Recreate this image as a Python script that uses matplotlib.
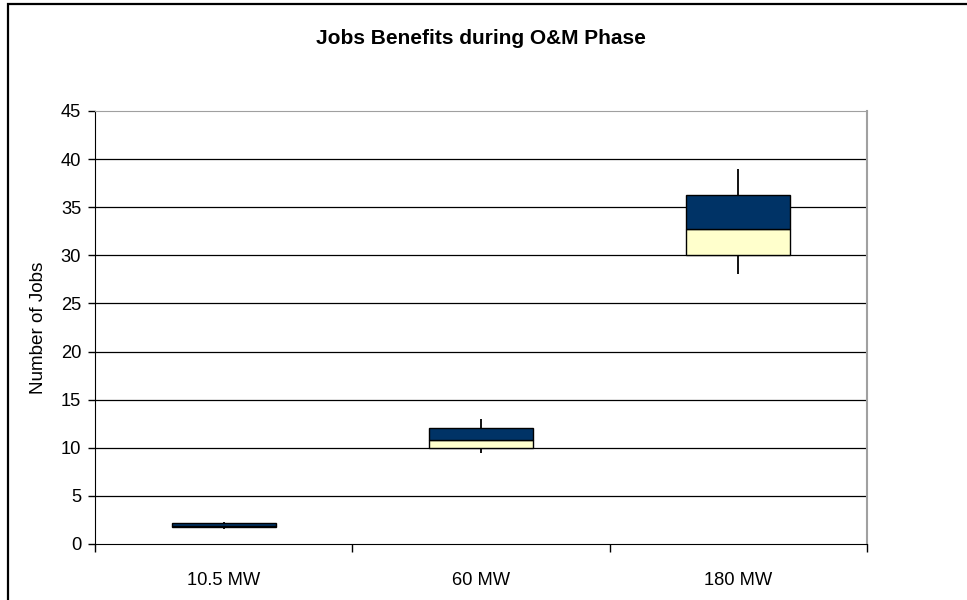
import matplotlib.pyplot as plt
from matplotlib.patches import Rectangle

plt.rcParams['font.family'] = ['Liberation Sans', 'DejaVu Sans']

# data
categories = ['10.5 MW', '60 MW', '180 MW']
low = [1.6, 9.5, 28.1]
q1 = [1.75, 10.0, 30.0]
median = [1.85, 10.85, 32.7]
q3 = [2.2, 12.1, 36.3]
high = [2.3, 13.0, 39.0]

navy = '#003366'
pale_yellow = '#FFFFCC'

fig = plt.figure(figsize=(9.67, 6.0), dpi=100)
ax = fig.add_axes([95 / 967, 56 / 600, 772 / 967, 433 / 600])

x = [i + 0.5 for i in range(len(categories))]
box_w = 0.405

# whiskers first, boxes on top
ax.vlines(x, low, high, color='black', linewidth=1.3, zorder=2)
ax.bar(x, [m - a for m, a in zip(median, q1)], bottom=q1, width=box_w,
       color=pale_yellow, edgecolor='black', linewidth=1.0, zorder=3)
ax.bar(x, [b - m for b, m in zip(q3, median)], bottom=median, width=box_w,
       color=navy, edgecolor='black', linewidth=1.0, zorder=3)

ax.set_xlim(0, 3)
ax.set_ylim(0, 45)
ax.set_yticks(range(0, 46, 5))
ax.set_xticks([0, 1, 2, 3])
ax.set_xticklabels([])
ax.set_xticks(x, minor=True)
ax.set_xticklabels(categories, minor=True)
ax.tick_params(axis='x', which='minor', length=0, pad=20, labelsize=13.2)
ax.tick_params(axis='x', which='major', length=6, width=1, direction='out')
ax.tick_params(axis='y', length=5, width=1, direction='out', labelsize=13.2, pad=5)

# horizontal gridlines
for v in range(5, 45, 5):
    ax.axhline(v, color='black', linewidth=0.9, zorder=1)

ax.spines['top'].set_color('#a0a0a0')
ax.spines['right'].set_color('#a0a0a0')
ax.spines['right'].set_linewidth(1.5)
ax.spines['left'].set_color('black')
ax.spines['bottom'].set_color('black')

ax.set_ylabel('Number of Jobs', fontsize=13.6)
ax.yaxis.set_label_coords(-0.062, 0.5)
fig.text(0.497, 1 - 38 / 600, 'Jobs Benefits during O&M Phase',
         ha='center', va='center', fontsize=15, fontweight='bold')

# chart border
fig.patches.append(Rectangle((8 / 967, -0.1), 1.2, 1 - 3.5 / 600 + 0.1,
                             transform=fig.transFigure, fill=False,
                             edgecolor='black', linewidth=1.6))

fig.savefig('out.png', dpi=100)
